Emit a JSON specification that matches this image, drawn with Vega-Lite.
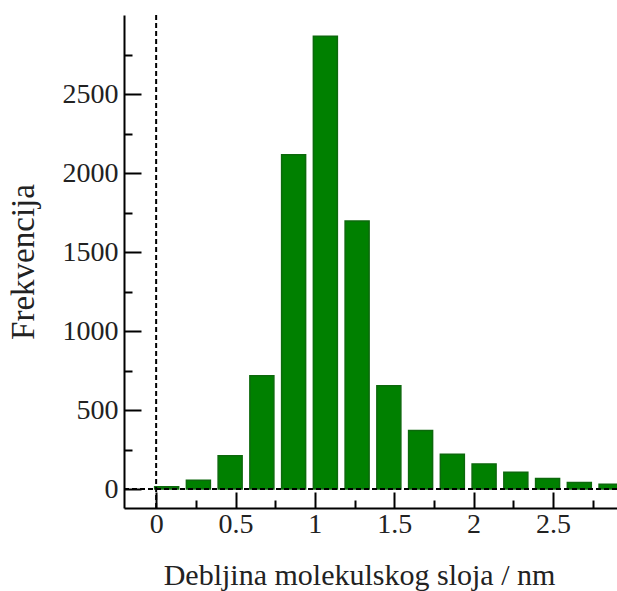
{
  "$schema": "https://vega.github.io/schema/vega-lite/v6.json",
  "width": 493,
  "height": 493,
  "autosize": {"type": "none"},
  "padding": {"left": 124, "top": 15, "right": 0, "bottom": 83},
  "background": "white",
  "config": {
    "view": {"stroke": null},
    "font": "Liberation Serif",
    "axis": {
      "grid": false,
      "domainColor": "black",
      "domainWidth": 2,
      "tickColor": "black",
      "tickWidth": 2,
      "labelFont": "Liberation Serif",
      "labelFontSize": 28,
      "labelColor": "#222222",
      "titleFont": "Liberation Serif",
      "titleFontWeight": "normal",
      "titleColor": "#222222"
    }
  },
  "data": {
    "values": [
      {"od": 0.0, "frekvencija": 15},
      {"od": 0.2, "frekvencija": 55},
      {"od": 0.4, "frekvencija": 210},
      {"od": 0.6, "frekvencija": 717},
      {"od": 0.8, "frekvencija": 2115},
      {"od": 1.0, "frekvencija": 2866},
      {"od": 1.2, "frekvencija": 1696},
      {"od": 1.4, "frekvencija": 654},
      {"od": 1.6, "frekvencija": 370},
      {"od": 1.8, "frekvencija": 220},
      {"od": 2.0, "frekvencija": 159},
      {"od": 2.2, "frekvencija": 106},
      {"od": 2.4, "frekvencija": 66},
      {"od": 2.6, "frekvencija": 42},
      {"od": 2.8, "frekvencija": 30}
    ]
  },
  "layer": [
    {
      "mark": {
        "type": "bar",
        "width": 24,
        "xOffset": 10.5,
        "fill": "#008000",
        "stroke": "#0c690c",
        "strokeWidth": 1.5,
        "clip": true
      },
      "encoding": {
        "x": {
          "field": "od",
          "type": "quantitative",
          "scale": {"domain": [-0.171, 2.872], "nice": false, "zero": false},
          "axis": {
            "values": [0, 0.25, 0.5, 0.75, 1, 1.25, 1.5, 1.75, 2, 2.25, 2.5, 2.75],
            "format": "~g",
            "labelExpr": "abs(datum.value * 2 - round(datum.value * 2)) < 1e-6 ? datum.label : ''",
            "tickSize": {"condition": {"test": "abs(datum.value * 2 - round(datum.value * 2)) < 1e-6", "value": -16}, "value": -8},
            "labelPadding": 18,
            "title": "Debljina molekulskog sloja / nm",
            "titleFontSize": 30,
            "titleX": 235,
            "titlePadding": 22
          }
        },
        "y": {
          "field": "frekvencija",
          "type": "quantitative",
          "scale": {"domain": [-120, 3000], "nice": false, "zero": false},
          "axis": {
            "values": [0, 250, 500, 750, 1000, 1250, 1500, 1750, 2000, 2250, 2500, 2750],
            "format": "d",
            "labelExpr": "datum.value % 500 === 0 ? datum.label : ''",
            "tickSize": {"condition": {"test": "datum.value % 500 === 0", "value": -17}, "value": -8},
            "labelPadding": 23,
            "title": "Frekvencija",
            "titleFontSize": 33,
            "titlePadding": 22
          }
        }
      }
    },
    {
      "data": {"values": [{}]},
      "mark": {"type": "rule", "color": "black", "strokeWidth": 2, "strokeDash": [5, 3]},
      "encoding": {"y": {"datum": 0, "type": "quantitative"}}
    },
    {
      "data": {"values": [{}]},
      "mark": {"type": "rule", "color": "black", "strokeWidth": 2, "strokeDash": [5, 3]},
      "encoding": {"x": {"datum": 0, "type": "quantitative"}}
    }
  ]
}
